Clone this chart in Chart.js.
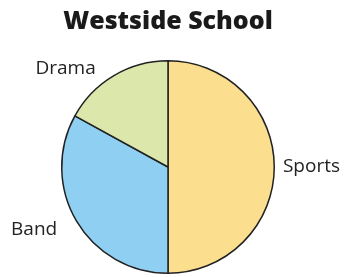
<!DOCTYPE html>
<html><head><meta charset="utf-8">
<script src="https://cdn.jsdelivr.net/npm/chart.js@4/dist/chart.umd.min.js"></script>
<style>html,body{margin:0;padding:0;background:#fff}#wrap{width:346px;height:277px}</style>
</head><body><div id="wrap"><canvas id="c" width="346" height="277"></canvas></div>
<script>
const titleText = "Westside School";
const categories = ["Sports", "Band", "Drama"];
const values = [50, 33, 17];
const colors = ["#FBDF8F", "#8FCFF1", "#DCE8AB"];

const labelPlugin = {
  id: 'outLabels',
  afterDatasetsDraw(chart, args, opts) {
    const ctx = chart.ctx;
    const meta = chart.getDatasetMeta(0);
    ctx.save();
    ctx.font = '19px "Open Sans", sans-serif';
    ctx.fillStyle = '#222';
    ctx.textAlign = 'center';
    ctx.textBaseline = 'middle';
    meta.data.forEach((arc, i) => {
      const p = opts.place[i];
      const a = p.angle * Math.PI / 180;
      const r = arc.outerRadius * p.dist;
      ctx.fillText(chart.data.labels[i], arc.x + Math.cos(a) * r, arc.y + Math.sin(a) * r);
    });
    ctx.restore();
  }
};

new Chart(document.getElementById('c'), {
  type: 'pie',
  data: {
    labels: categories,
    datasets: [{ data: values, backgroundColor: colors, borderColor: '#222', borderWidth: 1.5 }]
  },
  options: {
    responsive: false,
    animation: false,
    layout: { padding: { left: 50, right: 60, top: 0, bottom: 3 } },
    plugins: {
      legend: { display: false },
      tooltip: { enabled: false },
      title: { display: true, text: titleText, color: '#1a1a1a',
        font: { family: '"Open Sans", sans-serif', size: 25, weight: 800 },
        padding: { top: 7, bottom: 23 } },
      outLabels: { place: [ {angle: 0, dist: 1.35}, {angle: 155, dist: 1.39}, {angle: -136, dist: 1.34} ] }
    }
  },
  plugins: [labelPlugin]
});
</script></body></html>
